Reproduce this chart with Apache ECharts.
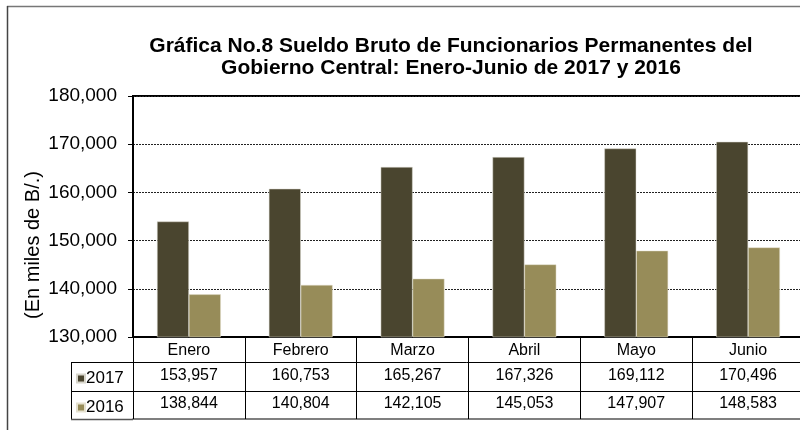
<!DOCTYPE html>
<html><head><meta charset="utf-8">
<script src="https://cdn.jsdelivr.net/npm/echarts@6/dist/echarts.min.js"></script>
<style>html,body{margin:0;padding:0;background:#fff}#c{width:800px;height:430px}</style>
</head><body><div id="c"></div>
<script>
var months = ['Enero','Febrero','Marzo','Abril','Mayo','Junio'];
var v2017 = [153957,160753,165267,167326,169112,170496];
var v2016 = [138844,140804,142105,145053,147907,148583];
var yTicks = {min:130000, max:180000, interval:10000};
var titleText = 'Gráfica No.8 Sueldo Bruto de Funcionarios Permanentes del\nGobierno Central: Enero-Junio de 2017 y 2016';
var yName = '(En miles de B/.)';

function fmt(n){ return n.toString().replace(/\B(?=(\d{3})+(?!\d))/g, ','); }
var FONT = 'Liberation Sans, Arial, sans-serif';
var chart = echarts.init(document.getElementById('c'), null, {renderer:'canvas'});
var gridL = 133, gridT = 96, gridW = 671, gridH = 241;
var lineStyle = {color:'#000', width:1};
chart.setOption({
  animation:false,
  backgroundColor:'#fff',
  title:{text:titleText, left:446, top:30, textAlign:'center',
    textStyle:{fontFamily:FONT, fontSize:21, fontWeight:'bold', color:'#000', lineHeight:22}},
  legend:{orient:'vertical', left:71, top:365, itemGap:12, itemWidth:8, itemHeight:8, icon:'rect',
    textStyle:{fontFamily:FONT, fontSize:17, color:'#000', padding:[0,0,0,-4]},
    data:['2017','2016']},
  grid:{left:gridL, top:gridT, width:gridW, height:gridH, show:true, borderColor:'#000', borderWidth:2,
    outerBoundsMode:'none', containLabel:false},
  xAxis:[
    {type:'category', data:months, gridIndex:0, position:'bottom',
      axisLine:{show:true, lineStyle:{color:'#000', width:2}},
      axisTick:{show:true, length:82, interval:0, lineStyle:lineStyle},
      axisLabel:{margin:6, interval:0, fontFamily:FONT, fontSize:16, color:'#000'}},
    {type:'category', data:months, gridIndex:0, position:'bottom', offset:25,
      axisLine:{show:true, lineStyle:lineStyle}, axisTick:{show:false},
      axisLabel:{margin:6, interval:0, fontFamily:FONT, fontSize:16, color:'#000',
        formatter:function(v,i){return fmt(v2017[i]);}}},
    {type:'category', data:months, gridIndex:0, position:'bottom', offset:54,
      axisLine:{show:true, lineStyle:lineStyle}, axisTick:{show:false},
      axisLabel:{margin:5, interval:0, fontFamily:FONT, fontSize:16, color:'#000',
        formatter:function(v,i){return fmt(v2016[i]);}}},
    {type:'category', data:months, gridIndex:0, position:'bottom', offset:82,
      axisLine:{show:true, lineStyle:{color:'#555', width:1.5}}, axisTick:{show:false},
      axisLabel:{show:false}}
  ],
  yAxis:{type:'value', min:yTicks.min, max:yTicks.max, interval:yTicks.interval,
    axisLine:{show:true, lineStyle:{color:'#000', width:2}},
    axisTick:{show:true, length:5, lineStyle:{color:'#000'}},
    axisLabel:{margin:16, fontFamily:FONT, fontSize:19, color:'#000', formatter:function(v){return fmt(v);}},
    splitLine:{show:true, lineStyle:{color:'#222', type:[2,1], width:1}}},
  series:[
    {name:'2017', type:'bar', data:v2017, barGap:'0%', barCategoryGap:'43%',
      itemStyle:{color:'#4A452F', borderColor:'#d8d6cc', borderWidth:0.5}},
    {name:'2016', type:'bar', data:v2016,
      itemStyle:{color:'#978C59', borderColor:'#e5e1d0', borderWidth:0.5}}
  ],
  graphic:[
    {type:'line', shape:{x1:7, y1:6.5, x2:800, y2:6.5}, style:{stroke:'#777', lineWidth:1.5}},
    {type:'line', shape:{x1:7.5, y1:6, x2:7.5, y2:430}, style:{stroke:'#444', lineWidth:1.5}},
    {type:'text', x:33, y:245, rotation:Math.PI/2,
      style:{text:yName, fontFamily:FONT, fontSize:20, fill:'#000', align:'center', verticalAlign:'middle'}},
    {type:'line', shape:{x1:71.5, y1:362, x2:71.5, y2:419}, style:{stroke:'#000', lineWidth:1}},
    {type:'line', shape:{x1:71, y1:362.5, x2:133, y2:362.5}, style:{stroke:'#000', lineWidth:1}},
    {type:'line', shape:{x1:71, y1:391.5, x2:133, y2:391.5}, style:{stroke:'#000', lineWidth:1}},
    {type:'line', shape:{x1:71, y1:419.5, x2:133, y2:419.5}, style:{stroke:'#555', lineWidth:1.5}}
  ]
});
</script></body></html>
